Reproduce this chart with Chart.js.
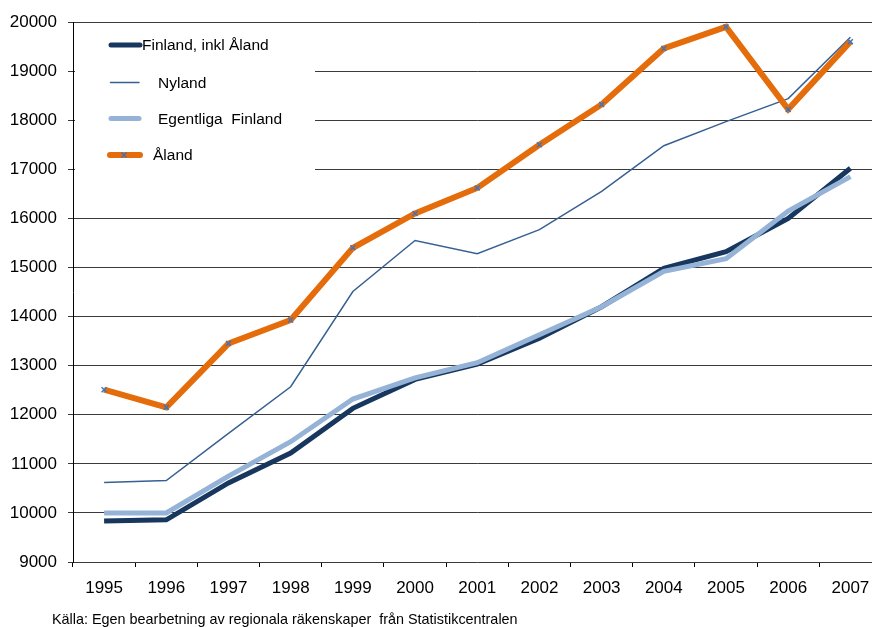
<!DOCTYPE html>
<html>
<head>
<meta charset="utf-8">
<script src="https://cdn.jsdelivr.net/npm/chart.js@4.4.1/dist/chart.umd.min.js"></script>
<style>
  html, body { margin: 0; padding: 0; background: #fff; overflow: hidden; }
  #wrap { position: relative; width: 887px; height: 627px; }
</style>
</head>
<body>
<div id="wrap"><canvas id="myChart" width="887" height="627"></canvas></div>
<script>
const years = ["1995", "1996", "1997", "1998", "1999", "2000", "2001", "2002", "2003", "2004", "2005", "2006", "2007"];
const finland = [9835, 9860, 10610, 11220, 12130, 12720, 13030, 13560, 14200, 14980, 15320, 16000, 17020];
const nyland = [10620, 10660, 11620, 12570, 14510, 15550, 15280, 15770, 16550, 17480, 17970, 18440, 19690];
const egentliga = [10000, 10000, 10750, 11450, 12320, 12750, 13060, 13630, 14200, 14920, 15180, 16150, 16850];
const aland = [12510, 12150, 13450, 13930, 15400, 16100, 16620, 17500, 18320, 19460, 19900, 18220, 19600];
const yTicks = [9000, 10000, 11000, 12000, 13000, 14000, 15000, 16000, 17000, 18000, 19000, 20000];
const sourceText = "Källa: Egen bearbetning av regionala räkenskaper  från Statistikcentralen";

const FONT = "Liberation Sans, Arial, sans-serif";

// legend box drawn inside the plot, over the gridlines
const legendBox = {
  id: "legendBox",
  beforeDatasetsDraw(chart) {
    const ctx = chart.ctx;
    ctx.save();
    ctx.fillStyle = "#fff";
    ctx.fillRect(75, 24, 240, 150);
    ctx.lineCap = "round";
    const items = [
      { label: "Finland, inkl Åland", color: "#17375E", width: 5, y: 45, x0: 111, x1: 140, tx: 142 },
      { label: "Nyland", color: "#376092", width: 1.5, y: 82.5, x0: 110.5, x1: 139, tx: 158 },
      { label: "Egentliga  Finland", color: "#95B3D7", width: 5, y: 118.5, x0: 111, x1: 139, tx: 158 },
      { label: "Åland", color: "#E46C0A", width: 6, y: 155, x0: 110, x1: 140, tx: 153, marker: true }
    ];
    items.forEach((it) => {
      ctx.strokeStyle = it.color;
      ctx.lineWidth = it.width;
      ctx.beginPath();
      ctx.moveTo(it.x0, it.y);
      ctx.lineTo(it.x1, it.y);
      ctx.stroke();
      if (it.marker) {
        ctx.strokeStyle = "#3F75B8";
        ctx.lineWidth = 1.5;
        ctx.lineCap = "butt";
        ctx.beginPath();
        ctx.moveTo(121.5, it.y - 2.5); ctx.lineTo(126.5, it.y + 2.5);
        ctx.moveTo(126.5, it.y - 2.5); ctx.lineTo(121.5, it.y + 2.5);
        ctx.stroke();
        ctx.lineCap = "round";
      }
      ctx.fillStyle = "#000";
      ctx.font = "15.5px " + FONT;
      ctx.textBaseline = "middle";
      ctx.fillText(it.label, it.tx, it.y + 1);
    });
    ctx.restore();
  },
  afterDraw(chart) {
    const ctx = chart.ctx;
    ctx.save();
    ctx.fillStyle = "#000";
    ctx.font = "14.4px " + FONT;
    ctx.textBaseline = "alphabetic";
    ctx.fillText(sourceText, 52, 624);
    ctx.restore();
  }
};

new Chart(document.getElementById("myChart"), {
  type: "line",
  data: {
    labels: years,
    datasets: [
      { label: "Finland, inkl Åland", data: finland, borderColor: "#17375E", borderWidth: 5, pointRadius: 0, order: 2 },
      { label: "Nyland", data: nyland, borderColor: "#376092", borderWidth: 1.5, pointRadius: 0, order: 3 },
      { label: "Egentliga Finland", data: egentliga, borderColor: "#95B3D7", borderWidth: 5, pointRadius: 0, order: 1 },
      {
        label: "Åland", data: aland, borderColor: "#E46C0A", borderWidth: 6,
        pointStyle: "crossRot", pointRadius: 3.5, pointBorderColor: "#3F75B8",
        pointBorderWidth: 1.5, pointBackgroundColor: "#3F75B8", order: 0
      }
    ]
  },
  options: {
    responsive: false,
    animation: false,
    layout: { padding: { top: 22, left: 0, right: 0, bottom: 0 } },
    elements: { line: { tension: 0, borderCapStyle: "butt", borderJoinStyle: "miter" } },
    plugins: { legend: { display: false }, tooltip: { enabled: false } },
    scales: {
      x: {
        offset: true,
        afterFit: (s) => { s.height = 65; s.paddingLeft = 0; s.paddingRight = 0; },
        grid: { offset: true, drawOnChartArea: false, tickLength: 5, color: "#000" },
        border: { display: false },
        ticks: { color: "#000", font: { size: 17, family: FONT }, padding: 11, maxRotation: 0, autoSkip: false }
      },
      y: {
        min: 9000,
        max: 20000,
        afterFit: (s) => { s.width = 73; s.paddingTop = 0; s.paddingBottom = 0; },
        afterBuildTicks: (s) => { s.ticks = yTicks.map((v) => ({ value: v })); },
        grid: { color: "#3a3a3a", lineWidth: 1, tickLength: 5 },
        border: { color: "#000", width: 1 },
        ticks: { color: "#000", font: { size: 17, family: FONT }, padding: 11, callback: (v) => String(v) }
      }
    }
  },
  plugins: [legendBox]
});
</script>
</body>
</html>
